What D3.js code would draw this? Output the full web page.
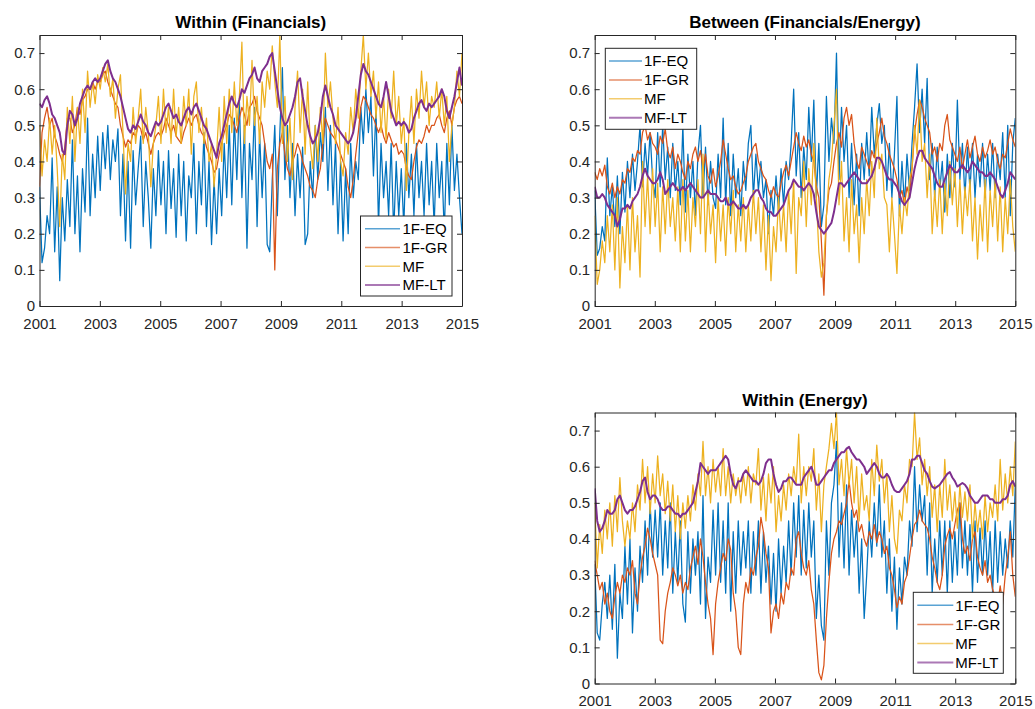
<html>
<head>
    <title></title>
    <script src='https://d3js.org/d3.v7.min.js'></script>
    <style>
        body { margin: 0; background-color: white; }
        .tick text, .legend-text { font-family: 'Liberation Sans', Arial, Helvetica, sans-serif; }
        .panel-title { font-family: 'Liberation Sans', Arial, Helvetica, sans-serif; font-weight: bold; }
    </style>
</head>
<body>

<script>

// monthly readings, 2001 - 2015
var seriesNames = ['1F-EQ', '1F-GR', 'MF', 'MF-LT'];
var seriesColors = ['#0072BD', '#D95319', '#EDB120', '#7E2F8E'];
var xTicks = [2001, 2003, 2005, 2007, 2009, 2011, 2013, 2015];
var yTicks = [0, 0.1, 0.2, 0.3, 0.4, 0.5, 0.6, 0.7];

// Within (Financials)
var finEQ = [
    0.33,0.12,0.16,0.25,0.20,0.41,0.15,0.33,0.07,0.30,0.18,0.35,
    0.22,0.46,0.20,0.36,0.15,0.38,0.26,0.52,0.25,0.42,0.30,0.47,
    0.32,0.48,0.38,0.50,0.35,0.46,0.40,0.49,0.25,0.42,0.18,0.40,
    0.16,0.43,0.28,0.38,0.47,0.22,0.40,0.30,0.16,0.38,0.25,0.43,
    0.28,0.40,0.20,0.43,0.27,0.38,0.19,0.42,0.25,0.40,0.18,0.36,
    0.30,0.45,0.20,0.40,0.28,0.48,0.22,0.40,0.17,0.35,0.20,0.38,
    0.25,0.45,0.30,0.50,0.28,0.52,0.35,0.57,0.30,0.50,0.16,0.45,
    0.35,0.55,0.22,0.48,0.30,0.45,0.17,0.15,0.35,0.50,0.25,0.48,
    0.66,0.35,0.50,0.30,0.45,0.25,0.42,0.30,0.44,0.17,0.20,0.40,
    0.30,0.50,0.35,0.48,0.40,0.55,0.32,0.50,0.28,0.45,0.20,0.40,
    0.18,0.38,0.20,0.45,0.30,0.40,0.35,0.55,0.45,0.60,0.48,0.58,
    0.36,0.55,0.22,0.45,0.30,0.40,0.25,0.45,0.20,0.40,0.25,0.38,
    0.22,0.45,0.30,0.42,0.25,0.45,0.30,0.40,0.25,0.45,0.28,0.40,
    0.22,0.45,0.30,0.40,0.20,0.45,0.28,0.50,0.32,0.42,0.30,0.20
];
var finGR = [
    0.33,0.48,0.52,0.55,0.50,0.52,0.47,0.45,0.42,0.40,0.44,0.52,
    0.52,0.48,0.50,0.55,0.53,0.57,0.58,0.60,0.60,0.62,0.60,0.62,
    0.62,0.64,0.65,0.62,0.60,0.58,0.56,0.55,0.50,0.47,0.44,0.46,
    0.45,0.48,0.47,0.50,0.49,0.46,0.48,0.45,0.42,0.45,0.47,0.48,
    0.47,0.49,0.52,0.50,0.48,0.50,0.47,0.46,0.45,0.48,0.50,0.52,
    0.50,0.52,0.53,0.50,0.48,0.47,0.44,0.42,0.40,0.37,0.38,0.42,
    0.45,0.48,0.50,0.53,0.52,0.50,0.48,0.52,0.55,0.53,0.50,0.55,
    0.56,0.58,0.54,0.52,0.50,0.45,0.40,0.38,0.42,0.10,0.38,0.45,
    0.48,0.42,0.38,0.36,0.40,0.42,0.45,0.43,0.40,0.38,0.36,0.33,
    0.32,0.30,0.35,0.38,0.45,0.52,0.50,0.48,0.47,0.46,0.44,0.42,
    0.40,0.38,0.33,0.30,0.35,0.42,0.48,0.55,0.58,0.57,0.55,0.53,
    0.52,0.50,0.48,0.50,0.47,0.45,0.48,0.46,0.44,0.45,0.42,0.43,
    0.42,0.38,0.36,0.35,0.40,0.44,0.46,0.45,0.47,0.50,0.48,0.50,
    0.50,0.52,0.53,0.50,0.48,0.52,0.54,0.50,0.55,0.57,0.58,0.56
];
var finMF = [
    0.50,0.36,0.46,0.40,0.52,0.42,0.50,0.38,0.22,0.42,0.35,0.55,
    0.45,0.58,0.40,0.55,0.45,0.60,0.48,0.65,0.55,0.62,0.56,0.64,
    0.60,0.66,0.62,0.67,0.58,0.63,0.52,0.60,0.64,0.48,0.31,0.45,
    0.40,0.55,0.45,0.52,0.60,0.45,0.55,0.48,0.33,0.45,0.50,0.58,
    0.45,0.60,0.48,0.55,0.45,0.60,0.47,0.55,0.45,0.58,0.50,0.60,
    0.42,0.58,0.62,0.48,0.55,0.45,0.52,0.40,0.45,0.33,0.42,0.55,
    0.40,0.58,0.45,0.60,0.48,0.62,0.50,0.58,0.73,0.45,0.58,0.50,
    0.68,0.50,0.58,0.45,0.62,0.55,0.65,0.60,0.72,0.62,0.55,0.75,
    0.45,0.58,0.40,0.52,0.35,0.55,0.65,0.48,0.60,0.42,0.62,0.45,
    0.38,0.50,0.40,0.55,0.45,0.70,0.55,0.62,0.52,0.45,0.55,0.40,
    0.36,0.48,0.42,0.55,0.48,0.60,0.52,0.65,0.75,0.60,0.70,0.58,
    0.65,0.52,0.62,0.48,0.58,0.46,0.60,0.52,0.65,0.50,0.58,0.45,
    0.52,0.32,0.48,0.58,0.45,0.60,0.52,0.65,0.55,0.62,0.50,0.58,
    0.55,0.62,0.52,0.60,0.50,0.58,0.40,0.50,0.55,0.65,0.58,0.70
];
var finMFLT = [
    0.56,0.55,0.57,0.58,0.56,0.53,0.52,0.50,0.48,0.43,0.42,0.50,
    0.54,0.53,0.50,0.52,0.56,0.58,0.60,0.61,0.60,0.62,0.63,0.62,
    0.63,0.65,0.67,0.68,0.65,0.63,0.62,0.60,0.58,0.55,0.52,0.49,
    0.48,0.50,0.49,0.51,0.53,0.51,0.50,0.48,0.47,0.49,0.51,0.50,
    0.51,0.53,0.55,0.56,0.54,0.52,0.53,0.51,0.50,0.52,0.54,0.55,
    0.53,0.55,0.56,0.54,0.52,0.50,0.49,0.47,0.45,0.43,0.41,0.45,
    0.47,0.50,0.53,0.56,0.58,0.56,0.55,0.57,0.60,0.59,0.61,0.63,
    0.64,0.66,0.63,0.62,0.65,0.66,0.67,0.69,0.70,0.65,0.60,0.55,
    0.52,0.50,0.51,0.53,0.55,0.58,0.62,0.63,0.58,0.54,0.50,0.47,
    0.45,0.46,0.48,0.52,0.58,0.61,0.58,0.55,0.53,0.50,0.49,0.48,
    0.47,0.46,0.45,0.46,0.48,0.52,0.58,0.64,0.67,0.65,0.64,0.62,
    0.60,0.58,0.56,0.55,0.58,0.62,0.58,0.54,0.52,0.50,0.51,0.50,
    0.51,0.50,0.48,0.49,0.52,0.54,0.56,0.57,0.55,0.54,0.56,0.55,
    0.56,0.57,0.58,0.60,0.58,0.54,0.52,0.55,0.58,0.62,0.66,0.61
];

// Between (Financials/Energy)
var betEQ = [
    0.32,0.14,0.16,0.22,0.18,0.41,0.25,0.33,0.22,0.36,0.20,0.37,
    0.26,0.40,0.30,0.42,0.32,0.40,0.50,0.33,0.45,0.36,0.48,0.35,
    0.30,0.48,0.33,0.50,0.35,0.44,0.30,0.45,0.32,0.40,0.28,0.50,
    0.26,0.42,0.30,0.40,0.25,0.42,0.50,0.30,0.44,0.28,0.40,0.30,
    0.27,0.42,0.30,0.52,0.28,0.45,0.25,0.42,0.30,0.38,0.25,0.40,
    0.32,0.45,0.50,0.30,0.42,0.32,0.40,0.30,0.35,0.20,0.32,0.25,
    0.36,0.26,0.38,0.28,0.40,0.35,0.45,0.60,0.36,0.48,0.30,0.44,
    0.35,0.55,0.40,0.57,0.30,0.45,0.22,0.28,0.58,0.40,0.52,0.45,
    0.70,0.35,0.55,0.40,0.50,0.30,0.45,0.28,0.42,0.25,0.45,0.35,
    0.48,0.36,0.55,0.42,0.50,0.56,0.45,0.50,0.32,0.45,0.30,0.42,
    0.58,0.25,0.40,0.28,0.42,0.32,0.45,0.55,0.67,0.48,0.60,0.45,
    0.63,0.35,0.45,0.30,0.44,0.32,0.40,0.26,0.42,0.30,0.45,0.33,
    0.57,0.35,0.45,0.30,0.44,0.32,0.45,0.30,0.42,0.33,0.45,0.30,
    0.42,0.32,0.45,0.30,0.42,0.35,0.48,0.30,0.50,0.25,0.45,0.52
];
var betGR = [
    0.37,0.35,0.38,0.36,0.39,0.33,0.31,0.34,0.30,0.33,0.31,0.35,
    0.34,0.38,0.37,0.41,0.40,0.43,0.42,0.48,0.50,0.46,0.48,0.45,
    0.44,0.42,0.47,0.45,0.49,0.43,0.41,0.44,0.38,0.42,0.40,0.37,
    0.35,0.40,0.38,0.42,0.44,0.40,0.43,0.38,0.42,0.36,0.34,0.38,
    0.33,0.36,0.40,0.46,0.42,0.38,0.35,0.36,0.33,0.31,0.32,0.34,
    0.36,0.40,0.42,0.44,0.45,0.40,0.38,0.36,0.35,0.32,0.30,0.33,
    0.31,0.30,0.34,0.37,0.39,0.36,0.40,0.44,0.48,0.45,0.43,0.47,
    0.44,0.46,0.42,0.40,0.33,0.30,0.18,0.03,0.25,0.32,0.34,0.40,
    0.45,0.48,0.44,0.52,0.55,0.50,0.53,0.45,0.40,0.38,0.44,0.42,
    0.40,0.38,0.43,0.41,0.45,0.48,0.52,0.47,0.45,0.42,0.40,0.38,
    0.35,0.30,0.32,0.28,0.33,0.30,0.38,0.48,0.53,0.57,0.55,0.52,
    0.50,0.48,0.42,0.44,0.40,0.45,0.43,0.50,0.53,0.46,0.44,0.42,
    0.40,0.44,0.38,0.42,0.46,0.41,0.44,0.47,0.42,0.40,0.44,0.41,
    0.43,0.46,0.42,0.44,0.40,0.38,0.42,0.41,0.45,0.49,0.46,0.44
];
var betMF = [
    0.25,0.06,0.10,0.18,0.12,0.25,0.15,0.28,0.10,0.30,0.05,0.22,
    0.12,0.28,0.10,0.30,0.15,0.25,0.08,0.40,0.22,0.36,0.20,0.38,
    0.22,0.34,0.15,0.33,0.20,0.35,0.22,0.30,0.18,0.33,0.15,0.35,
    0.18,0.32,0.15,0.30,0.22,0.35,0.20,0.42,0.15,0.32,0.20,0.28,
    0.12,0.30,0.18,0.28,0.14,0.30,0.20,0.32,0.15,0.28,0.18,0.30,
    0.15,0.28,0.18,0.32,0.20,0.30,0.15,0.28,0.10,0.25,0.07,0.22,
    0.15,0.30,0.18,0.28,0.15,0.32,0.20,0.35,0.09,0.30,0.25,0.40,
    0.22,0.38,0.28,0.45,0.30,0.15,0.08,0.12,0.25,0.35,0.40,0.50,
    0.60,0.28,0.40,0.18,0.30,0.15,0.35,0.20,0.28,0.12,0.30,0.20,
    0.35,0.25,0.40,0.30,0.52,0.38,0.42,0.30,0.28,0.15,0.30,0.20,
    0.09,0.28,0.20,0.30,0.25,0.35,0.38,0.50,0.42,0.57,0.40,0.45,
    0.30,0.42,0.20,0.32,0.22,0.35,0.20,0.34,0.25,0.40,0.28,0.38,
    0.22,0.35,0.20,0.33,0.25,0.35,0.18,0.30,0.13,0.28,0.18,0.35,
    0.15,0.32,0.22,0.35,0.18,0.33,0.15,0.30,0.20,0.35,0.22,0.15
];
var betMFLT = [
    0.33,0.30,0.30,0.31,0.30,0.28,0.27,0.26,0.25,0.22,0.24,0.27,
    0.27,0.28,0.27,0.29,0.30,0.31,0.33,0.36,0.38,0.36,0.35,0.34,
    0.34,0.35,0.37,0.35,0.31,0.32,0.33,0.34,0.33,0.32,0.32,0.33,
    0.32,0.33,0.34,0.33,0.32,0.31,0.30,0.30,0.31,0.32,0.31,0.31,
    0.31,0.30,0.29,0.29,0.30,0.28,0.28,0.29,0.28,0.27,0.27,0.28,
    0.27,0.28,0.30,0.31,0.32,0.32,0.30,0.29,0.27,0.26,0.26,0.25,
    0.25,0.26,0.27,0.28,0.30,0.32,0.33,0.35,0.34,0.33,0.33,0.32,
    0.33,0.34,0.33,0.31,0.26,0.22,0.21,0.20,0.21,0.22,0.23,0.26,
    0.30,0.34,0.34,0.33,0.34,0.35,0.36,0.37,0.36,0.35,0.34,0.34,
    0.34,0.35,0.36,0.38,0.41,0.41,0.40,0.38,0.36,0.35,0.35,0.34,
    0.33,0.31,0.29,0.28,0.29,0.30,0.34,0.38,0.41,0.43,0.43,0.41,
    0.40,0.39,0.38,0.36,0.34,0.33,0.33,0.35,0.37,0.39,0.38,0.37,
    0.37,0.38,0.39,0.38,0.37,0.38,0.40,0.39,0.38,0.37,0.37,0.36,
    0.36,0.37,0.36,0.35,0.33,0.31,0.30,0.32,0.34,0.37,0.36,0.35
];

// Within (Energy)
var eneEQ = [
    0.33,0.14,0.12,0.22,0.28,0.18,0.30,0.15,0.33,0.07,0.25,0.18,
    0.38,0.22,0.40,0.14,0.32,0.20,0.38,0.28,0.45,0.30,0.50,0.35,
    0.48,0.35,0.50,0.30,0.45,0.32,0.50,0.25,0.42,0.28,0.45,0.22,
    0.17,0.42,0.25,0.40,0.30,0.42,0.22,0.52,0.18,0.35,0.28,0.48,
    0.30,0.50,0.28,0.45,0.25,0.50,0.20,0.42,0.25,0.45,0.30,0.42,
    0.32,0.45,0.25,0.42,0.30,0.45,0.25,0.42,0.28,0.38,0.22,0.36,
    0.20,0.40,0.25,0.38,0.28,0.45,0.30,0.50,0.35,0.52,0.30,0.48,
    0.32,0.50,0.35,0.45,0.18,0.30,0.16,0.12,0.45,0.30,0.50,0.55,
    0.67,0.35,0.50,0.32,0.55,0.30,0.48,0.35,0.45,0.25,0.40,0.18,
    0.30,0.45,0.35,0.50,0.38,0.55,0.35,0.45,0.25,0.40,0.20,0.35,
    0.15,0.32,0.22,0.35,0.30,0.45,0.38,0.60,0.42,0.55,0.45,0.52,
    0.30,0.50,0.25,0.40,0.28,0.45,0.30,0.45,0.25,0.45,0.28,0.42,
    0.30,0.50,0.32,0.45,0.30,0.44,0.25,0.45,0.28,0.43,0.30,0.45,
    0.30,0.42,0.25,0.45,0.28,0.42,0.30,0.40,0.32,0.45,0.35,0.55
];
var eneGR = [
    0.34,0.30,0.26,0.28,0.22,0.25,0.20,0.18,0.24,0.28,0.25,0.30,
    0.28,0.32,0.30,0.34,0.25,0.22,0.30,0.35,0.38,0.43,0.40,0.36,
    0.33,0.30,0.12,0.11,0.20,0.25,0.28,0.32,0.30,0.27,0.30,0.25,
    0.28,0.26,0.32,0.35,0.38,0.33,0.40,0.35,0.28,0.22,0.18,0.08,
    0.22,0.28,0.32,0.36,0.34,0.40,0.37,0.25,0.20,0.10,0.08,0.22,
    0.28,0.25,0.32,0.30,0.35,0.38,0.46,0.42,0.36,0.32,0.14,0.20,
    0.22,0.18,0.25,0.22,0.28,0.26,0.32,0.30,0.40,0.42,0.36,0.32,
    0.30,0.34,0.26,0.22,0.12,0.03,0.01,0.05,0.18,0.28,0.36,0.40,
    0.42,0.45,0.44,0.47,0.50,0.56,0.50,0.46,0.48,0.42,0.44,0.40,
    0.38,0.42,0.40,0.44,0.39,0.42,0.40,0.36,0.38,0.32,0.30,0.26,
    0.21,0.24,0.22,0.28,0.30,0.35,0.40,0.44,0.45,0.48,0.45,0.44,
    0.43,0.40,0.35,0.32,0.28,0.26,0.30,0.38,0.41,0.43,0.40,0.44,
    0.48,0.50,0.40,0.36,0.38,0.34,0.40,0.42,0.35,0.32,0.30,0.34,
    0.28,0.30,0.26,0.24,0.22,0.27,0.22,0.30,0.35,0.42,0.30,0.24
];
var eneMF = [
    0.50,0.32,0.44,0.36,0.48,0.40,0.50,0.38,0.52,0.42,0.57,0.45,
    0.38,0.45,0.40,0.50,0.42,0.55,0.48,0.62,0.50,0.60,0.47,0.58,
    0.50,0.63,0.52,0.58,0.47,0.56,0.45,0.55,0.42,0.52,0.40,0.50,
    0.43,0.52,0.45,0.55,0.48,0.58,0.52,0.67,0.52,0.60,0.50,0.62,
    0.53,0.60,0.52,0.65,0.52,0.60,0.50,0.58,0.52,0.57,0.50,0.58,
    0.52,0.60,0.50,0.58,0.55,0.65,0.48,0.57,0.45,0.58,0.50,0.60,
    0.42,0.52,0.45,0.55,0.48,0.58,0.52,0.60,0.55,0.69,0.50,0.60,
    0.52,0.60,0.56,0.65,0.48,0.58,0.42,0.55,0.60,0.65,0.72,0.65,
    0.75,0.55,0.62,0.52,0.65,0.55,0.62,0.50,0.60,0.45,0.58,0.48,
    0.52,0.45,0.62,0.52,0.66,0.56,0.62,0.50,0.58,0.42,0.52,0.40,
    0.36,0.48,0.45,0.55,0.50,0.62,0.60,0.75,0.62,0.68,0.55,0.62,
    0.52,0.60,0.46,0.55,0.42,0.55,0.46,0.62,0.48,0.55,0.45,0.53,
    0.43,0.55,0.46,0.53,0.45,0.55,0.40,0.50,0.42,0.48,0.40,0.52,
    0.42,0.50,0.46,0.55,0.45,0.62,0.48,0.58,0.50,0.60,0.52,0.67
];
var eneMFLT = [
    0.54,0.45,0.42,0.43,0.45,0.48,0.47,0.47,0.48,0.51,0.52,0.50,
    0.48,0.47,0.48,0.48,0.49,0.51,0.53,0.56,0.57,0.53,0.51,0.52,
    0.52,0.51,0.49,0.48,0.48,0.49,0.49,0.48,0.47,0.47,0.46,0.47,
    0.47,0.48,0.49,0.50,0.53,0.56,0.61,0.60,0.59,0.58,0.59,0.59,
    0.59,0.60,0.61,0.62,0.63,0.62,0.58,0.55,0.54,0.56,0.56,0.58,
    0.59,0.58,0.57,0.56,0.56,0.55,0.56,0.58,0.61,0.62,0.62,0.58,
    0.55,0.53,0.54,0.56,0.56,0.57,0.57,0.56,0.55,0.55,0.55,0.57,
    0.58,0.59,0.60,0.58,0.55,0.55,0.56,0.57,0.58,0.59,0.59,0.61,
    0.62,0.63,0.64,0.64,0.65,0.655,0.64,0.63,0.62,0.62,0.61,0.60,
    0.58,0.59,0.60,0.61,0.60,0.58,0.57,0.57,0.58,0.57,0.55,0.535,
    0.53,0.53,0.54,0.55,0.56,0.58,0.62,0.62,0.63,0.63,0.61,0.59,
    0.58,0.56,0.545,0.54,0.545,0.55,0.56,0.57,0.58,0.585,0.57,0.56,
    0.545,0.55,0.555,0.55,0.54,0.52,0.51,0.50,0.50,0.51,0.52,0.52,
    0.52,0.51,0.51,0.50,0.50,0.50,0.51,0.51,0.52,0.55,0.56,0.545
];

var axisColor = '#262626';
var fontStack = "'Liberation Sans', Arial, Helvetica, sans-serif";

var panels = [
    {title: 'Within (Financials)', left: 39.5, top: 35, width: 422.5, height: 271,
     series: [finEQ, finGR, finMF, finMFLT],
     legend: {x: 360.5, y: 216, w: 91.5, h: 80, lineX: 4.5, lineLen: 35, textX: 42, row0: 12.7, rowStep: 18.8}},
    {title: 'Between (Financials/Energy)', left: 594.7, top: 35, width: 420.6, height: 271,
     series: [betEQ, betGR, betMF, betMFLT],
     legend: {x: 605.3, y: 48.3, w: 91.4, h: 81, lineX: 3.7, lineLen: 33, textX: 38.7, row0: 12.7, rowStep: 18.9}},
    {title: 'Within (Energy)', left: 594.7, top: 412.5, width: 420.6, height: 271,
     series: [eneEQ, eneGR, eneMF, eneMFLT],
     legend: {x: 913.3, y: 592.3, w: 90, h: 81, lineX: 4, lineLen: 36, textX: 42, row0: 13, rowStep: 19.1}}
];

var svg = d3.select('body')
        .append('svg')
        .attr('width', 1035)
        .attr('height', 709);

var drawPanel = function(p, k) {
    var g = svg.append('g')
            .attr('transform', 'translate(' + p.left + ',' + p.top + ')');

    var x = d3.scaleLinear().domain([2001, 2015]).range([0, p.width]);
    var y = d3.scaleLinear().domain([0, 0.75]).range([p.height, 0]);

    g.append('clipPath')
            .attr('id', 'clip' + k)
        .append('rect')
            .attr('width', p.width)
            .attr('height', p.height);

    var plot = g.append('g').attr('clip-path', 'url(#clip' + k + ')');

    p.series.forEach(function(values, s) {
        var n = values.length;
        var line = d3.line()
                .x(function(d, i) { return x(2001 + i * 14 / (n - 1)); })
                .y(function(d) { return y(d); });
        plot.append('path')
                .datum(values)
                .attr('d', line)
                .attr('fill', 'none')
                .attr('stroke', seriesColors[s])
                .attr('stroke-width', s == 3 ? 2 : 1.25)
                .attr('stroke-linejoin', 'round');
    });

    // axes, ticks pointing inwards on all four sides
    var styleAxis = function(sel) {
        sel.select('.domain').attr('stroke', axisColor);
        sel.selectAll('.tick line').attr('stroke', axisColor);
        sel.selectAll('.tick text')
                .attr('fill', axisColor)
                .attr('font-size', 15)
                .attr('font-family', fontStack);
    };

    g.append('g')
            .attr('transform', 'translate(0,' + p.height + ')')
            .call(d3.axisBottom(x).tickValues(xTicks).tickFormat(d3.format('d'))
                    .tickSizeInner(-5).tickSizeOuter(0).tickPadding(12))
            .call(styleAxis);
    g.append('g')
            .call(d3.axisLeft(y).tickValues(yTicks).tickFormat(function(d) { return d === 0 ? '0' : d3.format('.1f')(d); })
                    .tickSizeInner(-5).tickSizeOuter(0).tickPadding(4.5))
            .call(styleAxis);
    g.append('g')
            .call(d3.axisTop(x).tickValues(xTicks).tickFormat('')
                    .tickSizeInner(-5).tickSizeOuter(0))
            .call(styleAxis);
    g.append('g')
            .attr('transform', 'translate(' + p.width + ',0)')
            .call(d3.axisRight(y).tickValues(yTicks).tickFormat('')
                    .tickSizeInner(-5).tickSizeOuter(0))
            .call(styleAxis);

    svg.append('text')
            .attr('class', 'panel-title')
            .attr('x', p.left + p.width / 2)
            .attr('y', p.top - 7)
            .attr('text-anchor', 'middle')
            .attr('font-size', 17)
            .attr('fill', '#000')
            .text(p.title);

    // legend
    var L = p.legend;
    var lg = svg.append('g')
            .attr('transform', 'translate(' + L.x + ',' + L.y + ')');
    lg.append('rect')
            .attr('width', L.w)
            .attr('height', L.h)
            .attr('fill', 'white')
            .attr('stroke', axisColor)
            .attr('stroke-width', 1);
    seriesNames.forEach(function(name, s) {
        var ry = L.row0 + s * L.rowStep;
        lg.append('line')
                .attr('x1', L.lineX)
                .attr('x2', L.lineX + L.lineLen)
                .attr('y1', ry)
                .attr('y2', ry)
                .attr('stroke', seriesColors[s])
                .attr('stroke-opacity', 0.65)
                .attr('stroke-width', s == 3 ? 2 : 1.5);
        lg.append('text')
                .attr('class', 'legend-text')
                .attr('x', L.textX)
                .attr('y', ry)
                .attr('dy', '0.35em')
                .attr('font-size', 15)
                .attr('fill', '#000')
                .text(name);
    });
};

panels.forEach(drawPanel);

</script>

</body>
</html>
